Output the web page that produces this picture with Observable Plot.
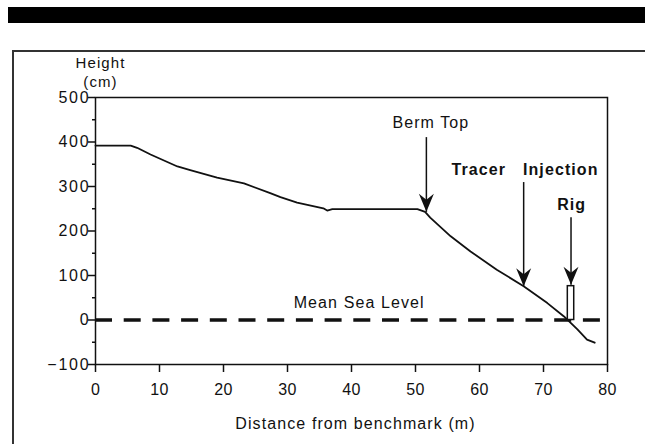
<!DOCTYPE html>
<html><head><meta charset="utf-8">
<script src="https://cdn.jsdelivr.net/npm/d3@7"></script>
<script src="https://cdn.jsdelivr.net/npm/@observablehq/plot@0.6"></script>
<style>
body{margin:0;background:#fff;}
#wrap{position:relative;width:645px;height:444px;overflow:hidden;background:#fff;}
#bar{position:absolute;left:8px;top:7px;width:640px;height:16px;background:#000;}
#box{position:absolute;left:12px;top:50px;width:640px;height:400px;border:2px solid #333;box-sizing:border-box;}
#chart{position:absolute;left:0;top:0;}
#chart g[aria-label="y-axis tick label"]{font-size:16px;letter-spacing:1.8px;}
#chart g[aria-label="x-axis tick label"]{font-size:16px;letter-spacing:0.3px;}
</style></head><body>
<div id="wrap"><div id="bar"></div><div id="box"></div><div id="chart"></div></div>
<script>
// Beach profile
const distance = [0, 5.5, 6.5, 8.6, 12.8, 14.8, 19, 23.2, 27.3, 28.9, 31.5, 35.6, 36.2, 37.0, 50.3, 51.5, 52.3, 55.5, 58.6, 62.7, 66.9, 70.6, 73.2, 75.3, 76.8, 78];
const height   = [392, 392, 387, 372, 345, 337, 320, 307, 285, 276, 264, 251, 246, 249, 249, 243, 230, 188, 154, 113, 76, 38, 8, -21, -44, -51];

const xTicks = [0, 10, 20, 30, 40, 50, 60, 70, 80];
const yTicks = [-100, 0, 100, 200, 300, 400, 500];
const yMinorTicks = [-50, 50, 150, 250, 350, 450];
const seaLevel = [0];

// Annotation arrows: x position, shaft top, tip
const arrowX    = [51.7, 66.9, 74.3];
const arrowTop  = [411, 310, 231];
const arrowTip  = [243, 76, 79];

// Annotation labels
const labelText = ["Berm Top", "Tracer", "Injection", "Rig", "Mean Sea Level"];
const labelX    = [52.4, 59.9, 72.7, 74.4, 41.2];
const labelY    = [444, 337, 337, 258, 38];
const labelBold = [false, true, true, true, false];

// Rig box
const rigX1 = [73.8], rigX2 = [74.8], rigY1 = [0], rigY2 = [76];

const profile = distance.map((d, i) => ({d, h: height[i]}));
const arrows = arrowX.map((x, i) => ({x, top: arrowTop[i], tip: arrowTip[i]}));
const labels = labelText.map((t, i) => ({t, x: labelX[i], y: labelY[i], bold: labelBold[i]}));
const rig = rigX1.map((x1, i) => ({x1, x2: rigX2[i], y1: rigY1[i], y2: rigY2[i]}));

const headSymbol = {
  draw(ctx) {
    ctx.moveTo(0, 0);
    ctx.lineTo(-7.5, -18);
    ctx.lineTo(0, -12);
    ctx.lineTo(7.5, -18);
    ctx.closePath();
  }
};

const chart = Plot.plot({
  width: 645,
  height: 444,
  marginLeft: 95,
  marginRight: 38,
  marginTop: 97,
  marginBottom: 80,
  style: {fontFamily: "'Liberation Sans', Arial, sans-serif", fontSize: "16px", letterSpacing: "1.1px", background: "transparent", color: "#111"},
  x: {domain: [0, 80]},
  y: {domain: [-100, 500]},
  marks: [
    Plot.frame({stroke: "#111", strokeWidth: 1.5}),
    Plot.axisY(yTicks, {tickSize: 7, tickPadding: -2, label: null, strokeWidth: 1.5}),
    Plot.axisY(yMinorTicks, {tickSize: 3, tickFormat: () => "", label: null, strokeWidth: 1.5}),
    Plot.axisX(xTicks, {tickSize: 8, tickPadding: 11, label: null, strokeWidth: 1.5}),
    Plot.text(["Height\n(cm)"], {frameAnchor: "top-left", dx: 5, dy: -42.5, lineAnchor: "top", textAnchor: "middle", lineHeight: 1.25, fontSize: 15}),
    Plot.text(["Distance from benchmark (m)"], {frameAnchor: "bottom", lineAnchor: "middle", dx: 4, dy: 59}),
    Plot.ruleY(seaLevel, {stroke: "#111", strokeWidth: 3.3, strokeDasharray: "17,11.7"}),
    Plot.line(profile, {x: "d", y: "h", stroke: "#111", strokeWidth: 1.8}),
    Plot.rect(rig, {x1: "x1", x2: "x2", y1: "y1", y2: "y2", fill: "white", stroke: "#111", strokeWidth: 1.5}),
    Plot.link(arrows, {x1: "x", x2: "x", y1: "top", y2: "tip", stroke: "#111", strokeWidth: 1.5}),
    Plot.dot(arrows, {x: "x", y: "tip", symbol: headSymbol, r: 5, fill: "#111", stroke: "none"}),
    Plot.text(labels.filter(d => !d.bold), {x: "x", y: "y", text: "t", fill: "#111"}),
    Plot.text(labels.filter(d => d.bold), {x: "x", y: "y", text: "t", fill: "#111", fontWeight: "bold"})
  ]
});
document.getElementById("chart").appendChild(chart);
</script>
</body></html>
